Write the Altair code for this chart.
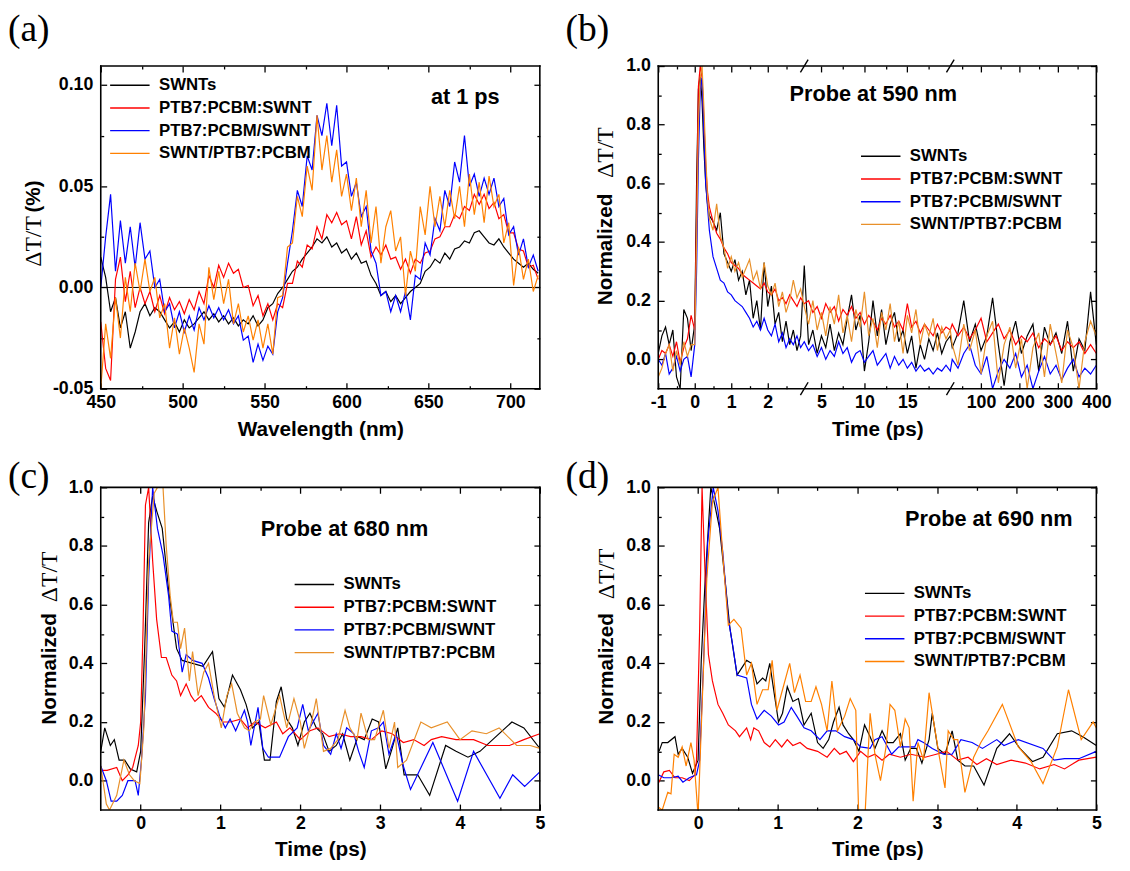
import altair as alt
import pandas as pd

SERIES = ["SWNTs", "PTB7:PCBM:SWNT", "PTB7:PCBM/SWNT", "SWNT/PTB7:PCBM"]
COLORS_AD = ["#000000", "#ff0000", "#0000ff", "#ff8000"]
COLORS_BC = ["#000000", "#ff0000", "#0000ff", "#e8902a"]
SANS = "Liberation Sans"
SERIF = "Liberation Serif"

# ---------------- panel (a): spectra at 1 ps ----------------
WAVELENGTHS = list(range(450, 718, 3))
A_SWNT = [0.015, 0.005, -0.012, -0.005, -0.020, -0.012, -0.030, -0.022, -0.012, -0.008,
          -0.014, -0.010, -0.012, -0.016, -0.020, -0.017, -0.022, -0.016, -0.020, -0.018,
          -0.015, -0.012, -0.016, -0.013, -0.017, -0.014, -0.018, -0.015, -0.019, -0.016,
          -0.018, -0.014, -0.019, -0.016, -0.010, -0.008, -0.003, 0.000, 0.004, 0.008,
          0.010, 0.014, 0.017, 0.020, 0.024, 0.022, 0.025, 0.020, 0.022, 0.017,
          0.019, 0.014, 0.017, 0.012, 0.013, 0.006, 0.002, -0.004, -0.002, -0.007,
          -0.004, -0.008, -0.005, -0.002, 0.000, 0.002, 0.008, 0.010, 0.014, 0.012,
          0.017, 0.014, 0.019, 0.020, 0.023, 0.022, 0.027, 0.028, 0.025, 0.022,
          0.021, 0.024, 0.020, 0.017, 0.014, 0.012, 0.010, 0.012, 0.009, 0.007]
A_RED = [-0.017, -0.040, -0.046, 0.004, 0.015, -0.007, 0.008, -0.010, 0.000, -0.008,
         -0.002, -0.012, -0.004, -0.013, -0.005, -0.011, -0.007, -0.013, -0.006, -0.011,
         -0.002, -0.008, 0.006, 0.000, 0.011, 0.005, 0.012, 0.007, 0.009, 0.000,
         0.001, -0.009, -0.004, -0.014, -0.008, -0.016, -0.008, -0.010, 0.002, 0.002,
         0.013, 0.010, 0.021, 0.019, 0.030, 0.024, 0.036, 0.032, 0.037, 0.031,
         0.033, 0.024, 0.035, 0.021, 0.028, 0.015, 0.020, 0.016, 0.021, 0.014,
         0.015, 0.009, 0.014, 0.007, 0.014, 0.012, 0.017, 0.018, 0.024, 0.025,
         0.030, 0.030, 0.036, 0.034, 0.040, 0.038, 0.046, 0.041, 0.046, 0.039,
         0.042, 0.034, 0.036, 0.027, 0.027, 0.019, 0.018, 0.010, 0.011, 0.004]
A_BLUE = [0.000, 0.025, 0.046, 0.008, 0.033, 0.012, 0.030, 0.010, 0.032, 0.014,
          0.018, 0.000, 0.004, -0.012, -0.008, -0.020, -0.012, -0.022, -0.014, -0.021,
          -0.010, -0.016, -0.009, -0.015, -0.010, -0.016, -0.011, -0.018, -0.014, -0.026,
          -0.024, -0.037, -0.028, -0.036, -0.029, -0.033, -0.012, -0.005, 0.012, 0.028,
          0.048, 0.040, 0.065, 0.058, 0.085, 0.075, 0.091, 0.070, 0.090, 0.060,
          0.062, 0.045, 0.052, 0.035, 0.040, 0.018, 0.012, -0.004, -0.002, -0.012,
          -0.004, -0.012, -0.002, -0.016, 0.006, 0.004, 0.022, 0.016, 0.034, 0.028,
          0.048, 0.040, 0.062, 0.052, 0.075, 0.050, 0.056, 0.045, 0.054, 0.046,
          0.054, 0.040, 0.044, 0.026, 0.030, 0.016, 0.024, 0.010, 0.016, 0.008]
A_ORANGE = [-0.050, -0.018, -0.035, -0.005, -0.025, 0.005, -0.012, 0.012, -0.002, 0.014,
            -0.002, 0.005, -0.015, -0.008, -0.030, -0.015, -0.033, -0.020, -0.030, -0.042,
            -0.018, -0.028, 0.010, -0.006, 0.008, -0.008, 0.004, -0.018, -0.008, -0.022,
            -0.014, -0.026, -0.016, -0.030, -0.018, -0.033, -0.005, -0.004, 0.020, 0.022,
            0.045, 0.035, 0.060, 0.048, 0.085, 0.058, 0.075, 0.052, 0.068, 0.045,
            0.056, 0.038, 0.054, 0.030, 0.048, 0.022, 0.040, 0.012, 0.030, 0.038,
            0.018, 0.025, -0.004, 0.018, 0.008, 0.040, 0.026, 0.050, 0.030, 0.045,
            0.030, 0.048, 0.034, 0.050, 0.030, 0.056, 0.036, 0.052, 0.032, 0.055,
            0.040, 0.046, 0.022, 0.032, 0.001, 0.020, 0.004, 0.014, -0.002, 0.006]

# ---------------- panel (b): probe at 590 nm (broken time axis) ----------------
B_TIMES = [-1.0, -0.9, -0.8, -0.7, -0.6, -0.5, -0.4, -0.3, -0.2, -0.1,
           0.0, 0.05, 0.1, 0.15, 0.2, 0.25, 0.3, 0.35, 0.4,
           0.5, 0.6, 0.7, 0.8, 0.9, 1.0, 1.1, 1.2, 1.3, 1.4, 1.5, 1.6, 1.7, 1.8, 1.9,
           2.0, 2.1, 2.2, 2.3, 2.4, 2.5, 2.6, 2.7, 2.8, 2.9, 3.0,
           3.5, 4.0, 4.5, 5.0, 5.5, 6.0, 6.5, 7.0, 7.5, 8.0, 8.5, 9.0, 9.5, 10.0, 10.5, 11.0,
           11.5, 12.0, 12.5, 13.0, 13.5, 14.0, 14.5, 15.0, 15.5, 16.0, 16.5, 17.0, 17.5, 18.0,
           18.5, 19.0, 19.5, 20.0,
           25, 40, 55, 70, 85, 100, 115, 130, 145, 160, 175, 190, 205, 220, 235, 250, 265,
           280, 295, 310, 325, 340, 355, 370, 385, 400]
B_SWNT = [0.02, 0.08, 0.11, 0.05, 0.10, -0.06, -0.10, 0.17, 0.14, 0.03,
          0.12, 0.60, 0.92, 0.97, 0.88, 0.72, 0.60, 0.53, 0.49,
          0.47, 0.44, 0.50, 0.36, 0.33, 0.30, 0.34, 0.27, 0.30, 0.22, 0.27, 0.14, 0.20, 0.10, 0.33,
          0.18, 0.25, 0.12, 0.16, 0.06, 0.13, 0.05, 0.10, 0.03, 0.08, 0.32,
          0.05, 0.10, 0.02, 0.08, 0.04, 0.12, 0.03, 0.09, 0.05, 0.14, 0.22, 0.10, 0.15, -0.04, 0.06,
          0.20, 0.08, 0.17, 0.05, 0.12, 0.16, 0.06, 0.10, 0.02, 0.08, -0.03, 0.05, 0.00, 0.07,
          0.03, 0.09, 0.02, 0.06, 0.08,
          0.04, 0.09, 0.20, 0.06, 0.12, 0.03, 0.08, 0.21, 0.05, -0.09, 0.06, 0.13, 0.02, 0.08,
          0.12, -0.04, 0.11, 0.05, 0.09, 0.02, 0.13, -0.04, 0.07, 0.03, 0.23, 0.05]
B_RED = [0.00, 0.03, 0.02, 0.05, 0.01, 0.06, -0.01, 0.04, 0.07, 0.15,
         0.10, 0.50, 0.93, 1.00, 0.96, 0.82, 0.66, 0.57, 0.52,
         0.47, 0.43, 0.41, 0.38, 0.36, 0.33, 0.32, 0.31, 0.29, 0.28, 0.27, 0.26, 0.25, 0.24, 0.26,
         0.23, 0.22, 0.24, 0.20, 0.21, 0.19, 0.22, 0.20, 0.18, 0.21, 0.19,
         0.20, 0.16, 0.18, 0.14, 0.19, 0.16, 0.18, 0.13, 0.17, 0.15, 0.18, 0.14, 0.16, 0.12, 0.15,
         0.13, 0.10, 0.14, 0.12, 0.15, 0.11, 0.13, 0.10, 0.19, 0.11, 0.13, 0.09, 0.12, 0.10,
         0.08, 0.12, 0.09, 0.11, 0.10,
         0.12, 0.08, 0.11, 0.07, 0.10, 0.14, 0.06, 0.09, 0.12, 0.07, 0.10, 0.05, 0.08, 0.06,
         0.09, 0.04, 0.07, 0.05, 0.08, 0.03, 0.06, 0.04, 0.06, 0.02, 0.05, 0.02]
B_BLUE = [0.00, -0.02, 0.02, -0.05, -0.03, 0.01, -0.04, 0.00, 0.01, -0.06,
          0.05, 0.30, 0.68, 0.92, 0.96, 0.78, 0.60, 0.52, 0.44,
          0.35, 0.31, 0.27, 0.26, 0.23, 0.22, 0.20, 0.19, 0.18, 0.16, 0.14, 0.11, 0.13, 0.10, 0.14,
          0.10, 0.08, 0.12, 0.06, 0.09, 0.04, 0.07, 0.05, 0.08, 0.04, 0.06,
          0.03, 0.05, 0.01, 0.04, 0.00, 0.03, 0.01, 0.06, 0.02, 0.04, -0.01, 0.02, 0.03, -0.01, 0.01,
          0.03, -0.02, 0.00, 0.02, -0.03, 0.01, -0.02, 0.00, -0.03, -0.01, -0.04, -0.02, -0.04, -0.03,
          -0.05, -0.03, -0.04, -0.02, -0.04,
          0.00, -0.03, 0.02, 0.05, -0.02, -0.05, 0.01, -0.10, -0.04, 0.00, -0.03, 0.02, -0.06, -0.02,
          -0.10, -0.04, 0.01, -0.05, -0.02, -0.07, -0.03, 0.00, -0.06, -0.03, -0.05, -0.02]
B_ORANGE = [-0.06, -0.03, 0.02, 0.05, -0.04, 0.03, -0.02, 0.06, 0.01, 0.05,
            0.05, 0.40, 0.80, 0.96, 1.00, 0.86, 0.70, 0.55, 0.48,
            0.44, 0.53, 0.42, 0.38, 0.31, 0.35, 0.30, 0.33, 0.28, 0.31, 0.34, 0.27, 0.30, 0.24, 0.33,
            0.25, 0.22, 0.26, 0.18, 0.23, 0.16, 0.20, 0.27, 0.21, 0.24, 0.18,
            0.12, 0.20, 0.10, 0.16, 0.08, 0.18, 0.12, 0.22, 0.09, 0.15, 0.06, 0.17, 0.11, 0.23, 0.08,
            0.14, 0.04, 0.16, 0.10, 0.19, 0.06, 0.13, 0.02, 0.15, 0.09, 0.17, 0.05, 0.12, 0.08,
            0.14, 0.03, 0.11, 0.07, 0.10,
            0.05, -0.02, 0.12, 0.03, 0.10, -0.05, 0.08, 0.13, -0.08, 0.05, 0.11, -0.03, 0.07, -0.10,
            0.04, 0.09, -0.06, 0.12, 0.02, -0.08, 0.10, 0.04, -0.10, 0.06, 0.13, 0.08]
B_BREAKS = [3.0, 20.0]          # segment limits of the broken axis (ps)

# ---------------- panel (c): probe at 680 nm ----------------
C_SWNT = [(-0.5, 0.10), (-0.45, 0.18), (-0.38, 0.12), (-0.33, 0.14), (-0.27, 0.07), (-0.2, 0.07),
          (-0.13, 0.04), (-0.05, 0.03), (0.0, 0.10), (0.05, 0.45), (0.1, 0.88), (0.15, 0.97),
          (0.2, 0.92), (0.27, 0.86), (0.35, 0.65), (0.45, 0.45), (0.52, 0.41), (0.65, 0.40),
          (0.78, 0.39), (0.9, 0.44), (0.98, 0.28), (1.05, 0.25), (1.15, 0.36), (1.25, 0.31),
          (1.32, 0.26), (1.4, 0.18), (1.48, 0.20), (1.55, 0.07), (1.62, 0.07), (1.7, 0.27),
          (1.76, 0.32), (1.83, 0.21), (1.9, 0.18), (1.97, 0.12), (2.05, 0.20), (2.12, 0.23),
          (2.2, 0.18), (2.28, 0.16), (2.36, 0.10), (2.45, 0.12), (2.53, 0.16), (2.62, 0.07),
          (2.72, 0.15), (2.8, 0.14), (2.9, 0.21), (2.98, 0.20), (3.07, 0.04), (3.15, 0.11),
          (3.22, 0.18), (3.3, 0.02), (3.47, 0.02), (3.62, -0.05), (3.82, 0.12), (3.95, 0.10),
          (4.1, 0.08), (4.25, 0.10), (4.45, 0.15), (4.65, 0.20), (4.8, 0.18), (5.0, 0.11)]
C_RED = [(-0.5, 0.035), (-0.42, 0.035), (-0.3, 0.045), (-0.23, 0.0), (-0.16, 0.02), (-0.1, 0.045),
         (-0.03, 0.12), (0.0, 0.2), (0.03, 0.52), (0.06, 0.94), (0.1, 1.0), (0.15, 0.75),
         (0.2, 0.55), (0.26, 0.42), (0.32, 0.42), (0.39, 0.36), (0.45, 0.34), (0.5, 0.29),
         (0.57, 0.33), (0.63, 0.29), (0.68, 0.27), (0.76, 0.29), (0.85, 0.25), (0.94, 0.23),
         (1.03, 0.2), (1.12, 0.2), (1.25, 0.21), (1.34, 0.18), (1.43, 0.2), (1.56, 0.18),
         (1.7, 0.2), (1.78, 0.16), (1.87, 0.18), (2.0, 0.14), (2.12, 0.17), (2.22, 0.18),
         (2.36, 0.15), (2.49, 0.16), (2.63, 0.15), (2.76, 0.15), (2.89, 0.14), (3.02, 0.17),
         (3.15, 0.16), (3.29, 0.13), (3.42, 0.14), (3.55, 0.12), (3.64, 0.14), (3.77, 0.15),
         (3.95, 0.14), (4.17, 0.14), (4.35, 0.12), (4.62, 0.12), (4.8, 0.14), (5.0, 0.16)]
C_BLUE = [(-0.5, 0.05), (-0.43, 0.0), (-0.37, -0.07), (-0.3, -0.07), (-0.23, -0.05), (-0.16, 0.0),
          (-0.07, 0.0), (-0.03, -0.05), (0.01, 0.07), (0.06, 0.29), (0.1, 0.69), (0.15, 1.0),
          (0.21, 0.86), (0.28, 0.77), (0.35, 0.63), (0.39, 0.51), (0.46, 0.5), (0.52, 0.37),
          (0.57, 0.43), (0.65, 0.41), (0.77, 0.4), (0.85, 0.35), (0.92, 0.28), (0.99, 0.22),
          (1.06, 0.18), (1.12, 0.21), (1.19, 0.17), (1.3, 0.24), (1.34, 0.2), (1.38, 0.12),
          (1.47, 0.25), (1.53, 0.11), (1.6, 0.08), (1.74, 0.08), (1.85, 0.15), (1.96, 0.18),
          (2.03, 0.26), (2.1, 0.17), (2.16, 0.2), (2.22, 0.23), (2.29, 0.12), (2.38, 0.09),
          (2.45, 0.16), (2.51, 0.11), (2.58, 0.18), (2.67, 0.16), (2.73, 0.1), (2.8, 0.045),
          (2.89, 0.17), (2.98, 0.18), (3.04, 0.2), (3.11, 0.09), (3.2, 0.16), (3.29, 0.05),
          (3.38, -0.03), (3.66, 0.13), (3.97, -0.07), (4.17, 0.1), (4.5, -0.06), (4.66, 0.02),
          (4.81, -0.02), (5.0, 0.03)]
C_ORANGE = [(-0.5, 0.05), (-0.43, -0.08), (-0.39, -0.1), (-0.3, -0.05), (-0.21, 0.07), (-0.14, 0.02),
            (-0.08, 0.0), (-0.01, -0.01), (0.04, 0.18), (0.1, 0.75), (0.17, 0.98), (0.21, 1.0),
            (0.28, 1.0), (0.32, 0.8), (0.37, 0.63), (0.41, 0.54), (0.46, 0.54), (0.5, 0.45),
            (0.55, 0.52), (0.61, 0.34), (0.65, 0.44), (0.72, 0.29), (0.79, 0.37), (0.85, 0.4),
            (0.92, 0.29), (1.01, 0.18), (1.08, 0.29), (1.14, 0.33), (1.21, 0.23), (1.3, 0.18),
            (1.36, 0.17), (1.43, 0.2), (1.5, 0.21), (1.54, 0.29), (1.63, 0.19), (1.74, 0.29),
            (1.83, 0.18), (1.92, 0.28), (2.0, 0.2), (2.05, 0.11), (2.14, 0.2), (2.2, 0.28),
            (2.29, 0.1), (2.38, 0.11), (2.47, 0.14), (2.56, 0.24), (2.62, 0.18), (2.71, 0.14),
            (2.76, 0.23), (2.85, 0.14), (2.93, 0.14), (3.04, 0.24), (3.11, 0.11), (3.18, 0.2),
            (3.22, 0.045), (3.33, 0.07), (3.51, 0.2), (3.64, 0.18), (3.84, 0.2), (4.0, 0.14),
            (4.15, 0.17), (4.33, 0.16), (4.49, 0.18), (4.71, 0.12), (4.88, 0.12), (5.0, 0.11)]

# ---------------- panel (d): probe at 690 nm ----------------
D_SWNT = [(-0.49, 0.1), (-0.45, 0.13), (-0.38, 0.13), (-0.29, 0.15), (-0.25, 0.09), (-0.2, 0.11),
          (-0.13, 0.08), (-0.07, 0.025), (0.0, 0.07), (0.04, 0.41), (0.09, 0.69), (0.16, 1.0),
          (0.21, 0.94), (0.27, 0.86), (0.34, 0.68), (0.4, 0.52), (0.49, 0.36), (0.61, 0.41),
          (0.67, 0.4), (0.74, 0.33), (0.81, 0.35), (0.85, 0.34), (0.9, 0.4), (0.96, 0.29),
          (1.01, 0.2), (1.06, 0.23), (1.12, 0.32), (1.19, 0.27), (1.26, 0.28), (1.33, 0.19),
          (1.42, 0.23), (1.5, 0.13), (1.57, 0.11), (1.64, 0.14), (1.7, 0.2), (1.77, 0.25),
          (1.82, 0.19), (1.89, 0.16), (1.95, 0.14), (2.02, 0.1), (2.09, 0.19), (2.16, 0.15),
          (2.22, 0.11), (2.31, 0.17), (2.38, 0.13), (2.45, 0.13), (2.54, 0.16), (2.6, 0.07),
          (2.67, 0.11), (2.74, 0.11), (2.81, 0.06), (2.9, 0.14), (2.94, 0.23), (3.01, 0.11),
          (3.1, 0.09), (3.19, 0.17), (3.26, 0.07), (3.35, 0.05), (3.46, 0.05), (3.59, -0.015),
          (3.75, 0.11), (3.91, 0.16), (4.04, 0.11), (4.2, 0.065), (4.33, 0.08), (4.51, 0.16),
          (4.69, 0.17), (4.83, 0.15), (5.0, 0.12)]
D_RED = [(-0.5, -0.01), (-0.43, 0.03), (-0.36, 0.035), (-0.29, 0.01), (-0.2, 0.01), (-0.11, 0.0),
         (-0.04, 0.02), (-0.02, 0.07), (0.02, 0.52), (0.05, 1.0), (0.09, 0.69), (0.13, 0.43),
         (0.18, 0.34), (0.25, 0.26), (0.31, 0.23), (0.38, 0.19), (0.47, 0.17), (0.52, 0.15),
         (0.61, 0.18), (0.66, 0.14), (0.7, 0.18), (0.76, 0.17), (0.83, 0.13), (0.9, 0.115),
         (0.97, 0.14), (1.05, 0.115), (1.12, 0.14), (1.19, 0.12), (1.28, 0.13), (1.37, 0.11),
         (1.5, 0.1), (1.62, 0.08), (1.71, 0.11), (1.78, 0.09), (1.86, 0.1), (1.95, 0.065),
         (2.04, 0.1), (2.13, 0.08), (2.22, 0.09), (2.31, 0.07), (2.4, 0.09), (2.54, 0.08),
         (2.67, 0.09), (2.85, 0.08), (2.99, 0.09), (3.12, 0.1), (3.26, 0.07), (3.39, 0.08),
         (3.5, 0.055), (3.62, 0.075), (3.75, 0.055), (3.93, 0.07), (4.11, 0.06), (4.29, 0.04),
         (4.47, 0.055), (4.6, 0.04), (4.78, 0.07), (5.0, 0.08)]
D_BLUE = [(-0.5, 0.02), (-0.43, 0.01), (-0.34, 0.01), (-0.25, 0.015), (-0.19, -0.005), (-0.11, 0.01),
          (-0.02, 0.02), (0.02, 0.07), (0.07, 0.41), (0.12, 0.81), (0.19, 1.0), (0.25, 0.92),
          (0.31, 0.78), (0.38, 0.55), (0.43, 0.47), (0.49, 0.36), (0.61, 0.35), (0.67, 0.26),
          (0.74, 0.21), (0.83, 0.24), (0.92, 0.22), (1.01, 0.19), (1.08, 0.2), (1.17, 0.25),
          (1.24, 0.22), (1.33, 0.18), (1.42, 0.17), (1.53, 0.14), (1.62, 0.17), (1.73, 0.17),
          (1.84, 0.15), (1.95, 0.14), (2.04, 0.115), (2.16, 0.11), (2.22, 0.14), (2.31, 0.15),
          (2.43, 0.09), (2.52, 0.115), (2.61, 0.115), (2.72, 0.115), (2.76, 0.14), (2.83, 0.13),
          (2.94, 0.11), (3.08, 0.09), (3.19, 0.09), (3.3, 0.14), (3.44, 0.13), (3.57, 0.11),
          (3.75, 0.14), (3.84, 0.12), (4.02, 0.14), (4.33, 0.11), (4.47, 0.07), (4.6, 0.075),
          (4.78, 0.075), (5.0, 0.1)]
D_ORANGE = [(-0.5, -0.09), (-0.45, -0.1), (-0.38, -0.04), (-0.34, -0.045), (-0.3, 0.09), (-0.25, 0.08),
            (-0.2, 0.115), (-0.15, 0.05), (-0.09, 0.13), (-0.05, 0.07), (0.0, -0.12), (0.04, 0.18),
            (0.11, 0.69), (0.18, 0.95), (0.25, 1.0), (0.31, 0.77), (0.38, 0.53), (0.45, 0.55),
            (0.54, 0.52), (0.61, 0.36), (0.67, 0.4), (0.74, 0.26), (0.81, 0.31), (0.88, 0.31),
            (0.93, 0.41), (0.99, 0.24), (1.06, 0.31), (1.15, 0.4), (1.21, 0.3), (1.28, 0.36),
            (1.35, 0.27), (1.42, 0.27), (1.48, 0.32), (1.55, 0.26), (1.62, 0.17), (1.68, 0.34),
            (1.75, 0.17), (1.84, 0.22), (1.91, 0.28), (1.98, 0.24), (2.02, -0.15), (2.09, -0.15),
            (2.16, 0.23), (2.22, 0.09), (2.29, 0.0), (2.36, 0.115), (2.41, 0.26), (2.47, 0.24),
            (2.54, 0.115), (2.6, 0.21), (2.65, 0.18), (2.7, -0.07), (2.76, 0.13), (2.83, 0.07),
            (2.9, 0.3), (2.97, 0.18), (3.03, 0.08), (3.1, -0.025), (3.14, 0.17), (3.21, 0.14),
            (3.26, 0.14), (3.35, -0.04), (3.46, 0.08), (3.55, 0.13), (3.64, 0.17), (3.82, 0.26),
            (4.02, 0.115), (4.18, 0.065), (4.33, -0.01), (4.51, 0.115), (4.65, 0.31), (4.81, 0.14),
            (4.96, 0.2), (5.0, 0.18)]

# ---------------- tick lists ----------------
A_X_MAJOR = [450, 500, 550, 600, 650, 700]
A_X_MINOR = [475, 525, 575, 625, 675]
A_Y_MAJOR = [-0.05, 0.0, 0.05, 0.10]
A_Y_MINOR = [-0.025, 0.025, 0.075]
B_X_MAJOR_T = [-1, 0, 1, 2, 5, 10, 15, 100, 200, 300, 400]
B_X_MINOR_T = [-0.5, 0.5, 1.5, 2.5, 7.5, 12.5, 17.5, 50, 150, 250, 350]
T_Y_MAJOR = [0.0, 0.2, 0.4, 0.6, 0.8, 1.0]
T_Y_MINOR = [0.1, 0.3, 0.5, 0.7, 0.9]
CD_X_MAJOR = [0, 1, 2, 3, 4, 5]
CD_X_MINOR = [0.5, 1.5, 2.5, 3.5, 4.5]


def brk(t):
    """position of time t on the three equal-width segments of panel (b)"""
    if t <= B_BREAKS[0]:
        return (t + 1.0) / 4.0
    if t <= B_BREAKS[1]:
        return 1.0 + (t - 3.0) / 17.0
    return 2.0 + (t - 20.0) / 380.0


def frame_from_lists(xs, lists):
    rows = []
    for name, vals in zip(SERIES, lists):
        for x, y in zip(xs, vals):
            rows.append({"x": x, "y": y, "series": name})
    return pd.DataFrame(rows)


def frame_from_pairs(pairs_lists):
    rows = []
    for name, pairs in zip(SERIES, pairs_lists):
        for x, y in pairs:
            rows.append({"x": x, "y": y, "series": name})
    return pd.DataFrame(rows)


df_a = frame_from_lists(WAVELENGTHS, [A_SWNT, A_RED, A_BLUE, A_ORANGE])
df_b = frame_from_lists([brk(t) for t in B_TIMES], [B_SWNT, B_RED, B_BLUE, B_ORANGE])
df_c = frame_from_pairs([C_SWNT, C_RED, C_BLUE, C_ORANGE])
df_d = frame_from_pairs([D_SWNT, D_RED, D_BLUE, D_ORANGE])

MINUS_FIX = "'\u2212', '-'"
H = 327


def axis(orient, values, major, labels=False, **kw):
    t = 6 if major else 3
    a = dict(orient=orient, values=values, offset=-t, tickSize=t, tickWidth=1.3,
             tickColor="black", domain=False, grid=False, labels=labels, title=None)
    if labels:
        a.update(labelFont=SANS, labelFontWeight="bold", labelFontSize=18,
                 labelColor="black", labelFlush=False, labelOverlap=False,
                 labelPadding=8 if orient in ("left", "right") else 5)
    a.update(kw)
    return alt.Axis(**a)


def ytitle(text, font, weight, size, x, y):
    return dict(title=text, titleFont=font, titleFontWeight=weight, titleFontSize=size,
                titleColor="black", titleX=x, titleY=y, titleAngle=270,
                titleAlign="left", titleBaseline="middle")


def xtitle(text, y):
    return dict(title=text, titleFont=SANS, titleFontWeight="bold", titleFontSize=21,
                titleColor="black", titleY=y, titleBaseline="top")


def frame_rules(xs, ys, xdom, ydom):
    """plot box drawn as rules at the ends of both scale domains"""
    style = dict(color="black", strokeWidth=1.6, strokeCap="square")
    hor = alt.Chart(pd.DataFrame({"v": list(ydom)})).mark_rule(**style).encode(
        y=alt.Y("v:Q", scale=ys, axis=None))
    ver = alt.Chart(pd.DataFrame({"v": list(xdom)})).mark_rule(**style).encode(
        x=alt.X("v:Q", scale=xs, axis=None))
    return [hor, ver]


def panel(df, xdom, ydom, w, xmaj, xmin, ymaj, ymin, xlab, ylab, xt, yt1, yt2,
          colors, leg_xy, ann, letter, letter_y, extra=(), anchor=False):
    xs = alt.Scale(domain=xdom, nice=False, zero=False)
    ys = alt.Scale(domain=ydom, nice=False, zero=False)
    legend = alt.Legend(title=None, orient="none", legendX=leg_xy[0], legendY=leg_xy[1],
                        symbolType="M-5,0H5", symbolSize=64, symbolStrokeWidth=1.4,
                        symbolOpacity=1, labelFont=SANS, labelFontWeight="bold",
                        labelFontSize=17, labelColor="black", labelOffset=21,
                        labelLimit=400, rowPadding=5, padding=0)
    lines = alt.Chart(df).mark_line(strokeWidth=1.2, clip=True).encode(
        x=alt.X("x:Q", scale=xs, axis=axis("bottom", xmaj, True, labels=True, **xlab, **xt)),
        y=alt.Y("y:Q", scale=ys, axis=axis("left", ymaj, True, labels=True, **ylab, **yt1)),
        color=alt.Color("series:N", scale=alt.Scale(domain=SERIES, range=colors),
                        legend=legend, sort=SERIES),
    )
    ann_df = pd.DataFrame({"x": [ann[0]], "y": [ann[1]], "label": [ann[2]], "letter": [letter],
                           "x0": [xdom[0]]})
    text = alt.Chart(ann_df).mark_text(font=SANS, fontWeight="bold", fontSize=22,
                                       align="center", baseline="middle",
                                       color="black").encode(
        x=alt.X("x:Q", scale=xs, axis=axis("bottom", xmin, False)),
        y=alt.Y("y:Q", scale=ys, axis=axis("left", ymin, False, **yt2)),
        text="label:N",
    )
    letter_mark = alt.Chart(ann_df).mark_text(font=SERIF, fontSize=38, align="left",
                                              baseline="alphabetic", color="black").encode(
        x=alt.value(-94), y=alt.value(letter_y), text="letter:N")
    top_major = alt.Chart(ann_df).mark_point(opacity=0).encode(
        x=alt.X("x:Q", scale=xs, axis=axis("top", xmaj, True)),
        y=alt.Y("y:Q", scale=ys, axis=axis("right", ymaj, True)),
    )
    top_minor = alt.Chart(ann_df).mark_point(opacity=0).encode(
        x=alt.X("x:Q", scale=xs, axis=axis("top", xmin, False)),
        y=alt.Y("y:Q", scale=ys, axis=axis("right", ymin, False)),
    )
    layers = ([f(xs, ys) for f in extra] + [lines, text, letter_mark, top_major, top_minor]
              + frame_rules(xs, ys, xdom, ydom))
    if anchor:
        # invisible point fixing the top edge of the drawing 60 px above the plot
        layers.append(alt.Chart(ann_df).mark_point(size=1, opacity=0, strokeWidth=0,
                                                   filled=True).encode(
            x=alt.X("x0:Q", scale=xs, axis=None), y=alt.value(-60)))
    return alt.layer(*layers).resolve_axis(x="independent", y="independent").properties(
        width=w, height=H)


def zero_line(xs, ys):
    return alt.Chart(pd.DataFrame({"z": [0.0]})).mark_rule(color="black", strokeWidth=1).encode(
        y=alt.Y("z:Q", scale=ys, axis=None))


brk_df = pd.DataFrame({"u": [1.0, 2.0]})
SLASH = "M-0.6,1L0.6,-1"


def slash_top(xs, ys):
    return alt.Chart(brk_df).mark_point(shape=SLASH, size=169, filled=False, strokeWidth=1.4,
                                        color="black", opacity=1).encode(
        x=alt.X("u:Q", scale=xs, axis=None), y=alt.value(0))


def slash_bottom(xs, ys):
    return alt.Chart(brk_df).mark_point(shape=SLASH, size=169, filled=False, strokeWidth=1.4,
                                        color="black", opacity=1).encode(
        x=alt.X("u:Q", scale=xs, axis=None), y=alt.value(H))


lab2 = {"labelExpr": "replace(format(datum.value, '.2f'), " + MINUS_FIX + ")"}
lab1 = {"format": ".1f"}
labd = {"format": "d"}
lab_b = {"labelExpr": "replace(datum.value < 0.99 ? format(datum.value*4-1, 'd') : "
                      "(datum.value < 1.99 ? format((datum.value-1)*17+3, 'd') : "
                      "format((datum.value-2)*380+20, 'd')), " + MINUS_FIX + ")"}

pa = panel(df_a, [450, 718], [-0.05, 0.1094], 445,
           A_X_MAJOR, A_X_MINOR, A_Y_MAJOR, A_Y_MINOR, {"format": "d"}, lab2,
           xtitle("Wavelength (nm)", 36),
           ytitle("(%)", SANS, "bold", 21, -74, 148),
           ytitle("\u0394T/T", SERIF, "normal", 24, -71, 203),
           COLORS_AD, (21, 11), (672.5, 0.094, "at 1 ps"), "(a)", -25, extra=[zero_line],
           anchor=True)

pb = panel(df_b, [0, 3], [-0.1, 1.0], 444,
           [brk(t) for t in B_X_MAJOR_T], [brk(t) for t in B_X_MINOR_T],
           T_Y_MAJOR, T_Y_MINOR, lab_b, lab1,
           xtitle("Time (ps)", 36),
           ytitle("Normalized", SANS, "bold", 21, -59, 242),
           ytitle("\u0394T/T", SERIF, "normal", 24, -56, 113),
           COLORS_BC, (217, 83), (1.473, 0.904, "Probe at 590 nm"), "(b)", -25,
           extra=[slash_top, slash_bottom])

pc = panel(df_c, [-0.5, 5], [-0.1, 1.0], 445,
           CD_X_MAJOR, CD_X_MINOR, T_Y_MAJOR, T_Y_MINOR, labd, lab1,
           xtitle("Time (ps)", 35),
           ytitle("Normalized", SANS, "bold", 21, -58, 240),
           ytitle("\u0394T/T", SERIF, "normal", 24, -55, 116),
           COLORS_BC, (208, 90), (2.553, 0.856, "Probe at 680 nm"), "(c)", 1)

pd_ = panel(df_d, [-0.5, 5], [-0.1, 1.0], 444,
            CD_X_MAJOR, CD_X_MINOR, T_Y_MAJOR, T_Y_MINOR, labd, lab1,
            xtitle("Time (ps)", 35),
            ytitle("Normalized", SANS, "bold", 21, -58, 240),
            ytitle("\u0394T/T", SERIF, "normal", 24, -55, 113),
            COLORS_AD, (221, 99), (3.65, 0.893, "Probe at 690 nm"), "(d)", 1)

chart = alt.concat(pa, pb, pc, pd_, columns=2, spacing={"row": 100, "column": 120}).resolve_scale(
    color="independent").resolve_legend(color="independent").properties(
    bounds="flush", padding={"left": 0, "top": -8, "right": 10, "bottom": 5}
).configure_view(stroke=None).configure_axis(grid=False, domain=False)

chart.save("out.html", embed_options={"renderer": "svg", "actions": False})
